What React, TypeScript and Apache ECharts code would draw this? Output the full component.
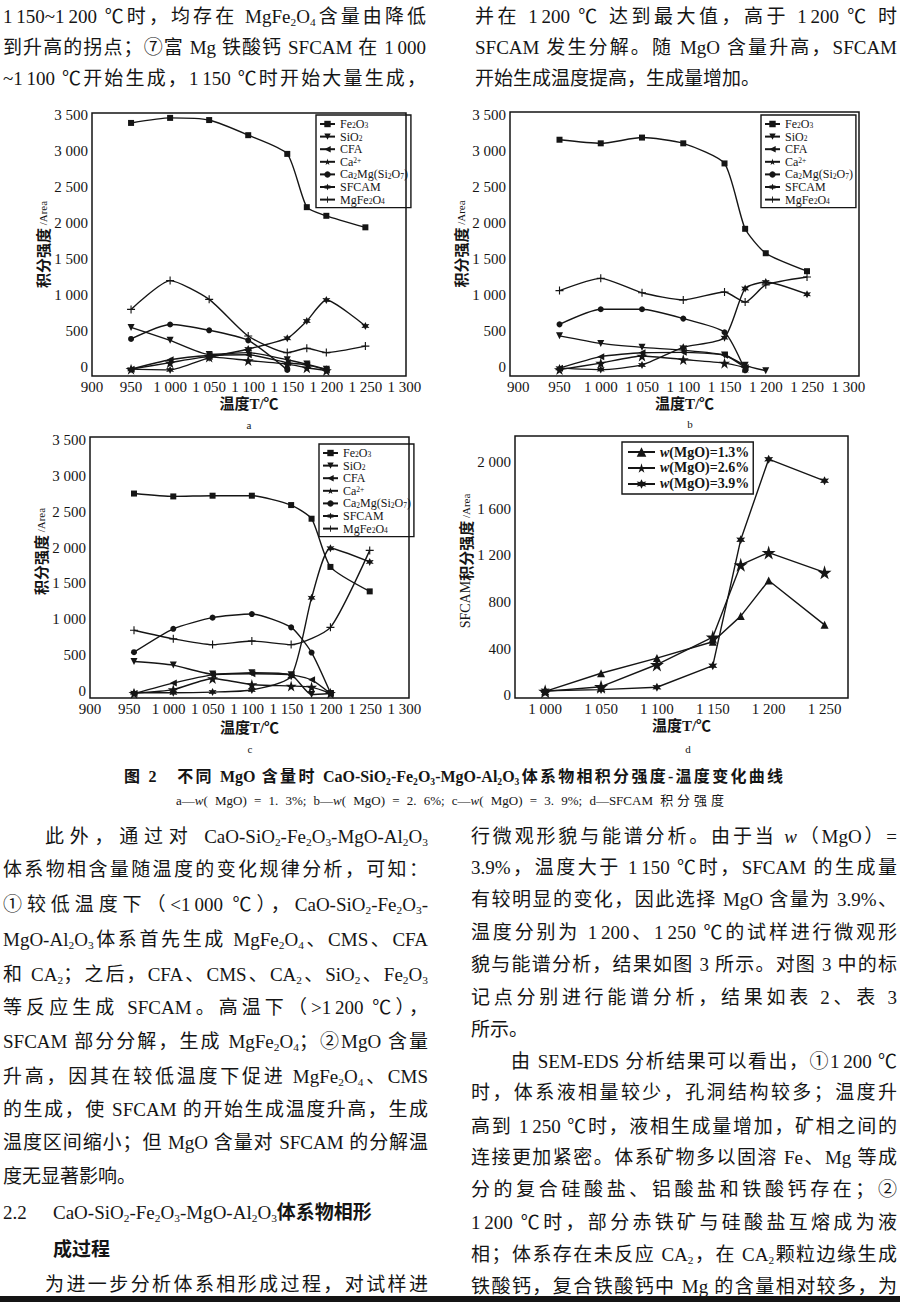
import React, { useEffect, useRef } from 'react';
import * as echarts from 'echarts';

// ---------- tick labels ----------
const X_TICKS = [900, 950, 1000, 1050, 1100, 1150, 1200, 1250, 1300];
const Y_TICKS = [0, 500, 1000, 1500, 2000, 2500, 3000, 3500];
const X_TICKS_D = [1000, 1050, 1100, 1150, 1200, 1250];
const Y_TICKS_D = [0, 400, 800, 1200, 1600, 2000];

// ---------- categories ----------
const PHASES = ['Fe2O3', 'SiO2', 'CFA', 'Ca2+', 'Ca2Mg(Si2O7)', 'SFCAM', 'MgFe2O4'];
const MGO_NAMES = ['w(MgO)=1.3%', 'w(MgO)=2.6%', 'w(MgO)=3.9%'];

// ---------- chart a: w(MgO)=1.3% ----------
const T_A = [950, 1000, 1050, 1100, 1150, 1175, 1200, 1250];
const T_A7 = [950, 1000, 1050, 1100, 1150, 1175, 1200];
const T_A5 = [950, 1000, 1050, 1100, 1150];
const A_FE2O3 = [3390, 3460, 3430, 3220, 2960, 2220, 2100, 1940];
const A_SIO2 = [550, 370, 175, 200, 100, 40, -30];
const A_CFA = [-30, 100, 160, 170, 60, 30, -40];
const A_CA = [-30, 60, 140, 90, 40, -10, -50];
const A_CMS = [390, 590, 510, 370, -40];
const A_SFCAM = [-30, -40, 130, 250, 400, 640, 930, 570];
const A_MGFE = [800, 1200, 940, 430, 200, 260, 200, 290];

// ---------- chart b: w(MgO)=2.6% ----------
const T_B = [950, 1000, 1050, 1100, 1150, 1175, 1200, 1250];
const T_B7 = [950, 1000, 1050, 1100, 1150, 1175, 1200];
const T_B6 = [950, 1000, 1050, 1100, 1150, 1175];
const B_FE2O3 = [3160, 3110, 3190, 3110, 2830, 1920, 1580, 1330];
const B_SIO2 = [430, 325, 270, 230, 165, 20, -55];
const B_CFA = [-20, 140, 195, 200, 160, -10];
const B_CA = [-40, 50, 150, 100, 50, -10];
const B_CMS = [590, 800, 800, 670, 480, -50];
const B_SFCAM = [-20, -40, 25, 270, 405, 1090, 1180, 1010];
const B_MGFE = [1060, 1230, 1030, 930, 1040, 900, 1140, 1250];

// ---------- chart c: w(MgO)=3.9% ----------
const T_C = [956, 1006, 1056, 1106, 1156, 1182, 1206, 1256];
const T_C7 = [956, 1006, 1056, 1106, 1156, 1182, 1206];
const T_C_MG = [956, 1006, 1056, 1106, 1156, 1206, 1256];
const C_FE2O3 = [2750, 2710, 2720, 2720, 2590, 2400, 1730, 1390];
const C_SIO2 = [415, 365, 240, 260, 230, -45, -30];
const C_CFA = [-30, 115, 230, 245, 230, 160, -30];
const C_CA = [-25, 25, 180, 95, 75, 60, -25];
const C_CMS = [545, 870, 1025, 1075, 890, 540, -20];
const C_SFCAM = [-20, -20, -10, 20, 210, 1300, 1990, 1800];
const C_MGFE = [850, 730, 650, 700, 650, 890, 1960];

// ---------- chart d: SFCAM integral intensity ----------
const T_D = [1000, 1050, 1100, 1150, 1175, 1200, 1250];
const D_13 = [35, 190, 320, 460, 680, 985, 605];
const D_26 = [35, 75, 265, 500, 1120, 1225, 1055];
const D_39 = [40, 50, 70, 255, 1335, 2025, 1840];

// ---------- styles ----------
const SERIF = '"Liberation Serif", "Noto Sans CJK SC", serif';
const CJK = '"Noto Sans CJK SC", "Liberation Serif", sans-serif';
const INK = '#151515';

const STAR5 = 'path://M50,0L61,35L98,35L68,57L79,91L50,70L21,91L32,57L2,35L39,35Z';
const STAR6 = 'path://M50,0L62.5,28.35L93.3,25L75,50L93.3,75L62.5,71.65L50,100L37.5,71.65L6.7,75L25,50L6.7,25L37.5,28.35Z';
const PLUS = 'path://M43,0H57V43H100V57H57V100H43V57H0V43H43Z';

const SYM: Record<string, { symbol: string; size: number; rotate?: number }> = {
  'Fe2O3': { symbol: 'rect', size: 6 },
  'SiO2': { symbol: 'triangle', size: 7, rotate: 180 },
  'CFA': { symbol: 'triangle', size: 7, rotate: 90 },
  'Ca2+': { symbol: STAR5, size: 11 },
  'Ca2Mg(Si2O7)': { symbol: 'circle', size: 6 },
  'SFCAM': { symbol: STAR6, size: 8 },
  'MgFe2O4': { symbol: PLUS, size: 8 },
  'w(MgO)=1.3%': { symbol: 'triangle', size: 8 },
  'w(MgO)=2.6%': { symbol: STAR5, size: 14 },
  'w(MgO)=3.9%': { symbol: STAR6, size: 9 },
};

const RICH_NAME: Record<string, string> = {
  'Fe2O3': '{n|Fe}{s|2}{n|O}{s|3}',
  'SiO2': '{n|SiO}{s|2}',
  'CFA': '{n|CFA}',
  'Ca2+': '{n|Ca}{p|2+}',
  'Ca2Mg(Si2O7)': '{n|Ca}{s|2}{n|Mg(Si}{s|2}{n|O}{s|7}{n|)}',
  'SFCAM': '{n|SFCAM}',
  'MgFe2O4': '{n|MgFe}{s|2}{n|O}{s|4}',
  'w(MgO)=1.3%': '{i|w}{m|(MgO)=1.3%}',
  'w(MgO)=2.6%': '{i|w}{m|(MgO)=2.6%}',
  'w(MgO)=3.9%': '{i|w}{m|(MgO)=3.9%}',
};

const fmt = (v: number) => {
  const a = Math.abs(v);
  if (a >= 1000) {
    const th = Math.floor(a / 1000);
    const r = a % 1000;
    return th + ' ' + String(r).padStart(3, '0');
  }
  return String(v);
};

type Spec = [string, number[], number[]];

const CHARTS: {
  grid: any; x: [number, number]; y: [number, number]; xt: number[]; yt: number[];
  yName: string; yGap: number; yShift: number; xGap: number; sub: string; subXY: [number, number];
  series: Spec[]; smooth: number;
}[] = [
  {
    grid: { left: 92, top: 113, width: 314, height: 263 }, x: [900, 1302], y: [-125, 3528],
    xt: X_TICKS, yt: Y_TICKS, yName: '{c|积分强度}{e| /Area}', yGap: 42, yShift: 0, xGap: 20, sub: 'a', subXY: [249, 425],
    smooth: 0.2,
    series: [
      ['Fe2O3', T_A, A_FE2O3], ['SiO2', T_A7, A_SIO2], ['CFA', T_A7, A_CFA], ['Ca2+', T_A7, A_CA],
      ['Ca2Mg(Si2O7)', T_A5, A_CMS], ['SFCAM', T_A, A_SFCAM], ['MgFe2O4', T_A, A_MGFE],
    ],
  },
  {
    grid: { left: 510, top: 112, width: 349, height: 264 }, x: [890, 1313], y: [-129, 3546],
    xt: X_TICKS, yt: Y_TICKS, yName: '{c|积分强度}{e| /Area}', yGap: 36, yShift: 0, xGap: 20, sub: 'b', subXY: [690, 424],
    smooth: 0.2,
    series: [
      ['Fe2O3', T_B, B_FE2O3], ['SiO2', T_B7, B_SIO2], ['CFA', T_B6, B_CFA], ['Ca2+', T_B6, B_CA],
      ['Ca2Mg(Si2O7)', T_B6, B_CMS], ['SFCAM', T_B, B_SFCAM], ['MgFe2O4', T_B, B_MGFE],
    ],
  },
  {
    grid: { left: 90, top: 437, width: 319, height: 261 }, x: [900, 1306], y: [-92, 3536],
    xt: X_TICKS, yt: Y_TICKS, yName: '{c|积分强度}{e| /Area}', yGap: 40, yShift: 32, xGap: 22, sub: 'c', subXY: [250, 749],
    smooth: 0.2,
    series: [
      ['Fe2O3', T_C, C_FE2O3], ['SiO2', T_C7, C_SIO2], ['CFA', T_C7, C_CFA], ['Ca2+', T_C7, C_CA],
      ['Ca2Mg(Si2O7)', T_C7, C_CMS], ['SFCAM', T_C, C_SFCAM], ['MgFe2O4', T_C_MG, C_MGFE],
    ],
  },
  {
    grid: { left: 515, top: 436, width: 333, height: 262 }, x: [973, 1271], y: [-22, 2224],
    xt: X_TICKS_D, yt: Y_TICKS_D, yName: '{l|SFCAM}{c|积分强度}{e| /Area}', yGap: 32, yShift: 12, xGap: 20, sub: 'd', subXY: [688, 749],
    smooth: 0,
    series: [['w(MgO)=1.3%', T_D, D_13], ['w(MgO)=2.6%', T_D, D_26], ['w(MgO)=3.9%', T_D, D_39]],
  },
];

const LEG_RICH = {
  n: { fontFamily: SERIF, fontSize: 12, color: INK, lineHeight: 11 },
  s: { fontFamily: SERIF, fontSize: 7.5, color: INK, lineHeight: 7, verticalAlign: 'bottom' },
  p: { fontFamily: SERIF, fontSize: 7.5, color: INK, lineHeight: 7, verticalAlign: 'top' },
  i: { fontFamily: SERIF, fontSize: 14, fontWeight: 'bold', fontStyle: 'italic', color: INK, lineHeight: 14 },
  m: { fontFamily: SERIF, fontSize: 14, fontWeight: 'bold', color: INK, lineHeight: 14 },
};

const phaseLegend = (left: number, top: number) => ({
  left, top, orient: 'vertical', itemWidth: 15, itemHeight: 8, itemGap: 0.6,
  padding: [3, 3, 2, 3], borderColor: INK, borderWidth: 1.4, selectedMode: false,
  data: PHASES, formatter: (n: string) => RICH_NAME[n], textStyle: { rich: LEG_RICH },
});

function buildOption() {
  const grids: any[] = [];
  const xAxes: any[] = [];
  const yAxes: any[] = [];
  const series: any[] = [];
  const graphic: any[] = [];
  CHARTS.forEach((c, k) => {
    grids.push({ ...c.grid, show: true, borderColor: INK, borderWidth: 1.5, containLabel: false });
    xAxes.push({
      type: 'value', gridIndex: k, min: c.x[0], max: c.x[1],
      axisLine: { show: false }, axisTick: { show: false }, splitLine: { show: false },
      axisLabel: { customValues: c.xt, formatter: fmt, fontFamily: SERIF, fontSize: 15, color: INK, margin: 3 },
      name: '{c|温度T/℃}', nameLocation: 'middle', nameGap: c.xGap,
      nameTextStyle: { rich: { c: { fontFamily: SERIF, fontSize: 15, fontWeight: 'bold', color: INK } } },
    });
    yAxes.push({
      type: 'value', gridIndex: k, min: c.y[0], max: c.y[1],
      axisLine: { show: false }, axisTick: { show: false }, splitLine: { show: false },
      axisLabel: { customValues: c.yt, formatter: fmt, fontFamily: SERIF, fontSize: 15, color: INK, margin: 4 },
      name: c.yName, nameLocation: 'middle', nameRotate: 90, nameGap: c.yGap,
      nameTextStyle: {
        padding: [0, 0, 0, c.yShift],
        rich: {
          c: { fontFamily: CJK, fontSize: 15, fontWeight: 'bold', color: INK },
          e: { fontFamily: SERIF, fontSize: 11, color: INK },
          l: { fontFamily: SERIF, fontSize: 14, color: INK },
        },
      },
    });
    c.series.forEach(([name, temps, vals]) => {
      const s = SYM[name];
      series.push({
        type: 'line', name, xAxisIndex: k, yAxisIndex: k,
        data: temps.map((t, i) => [t, vals[i]]),
        symbol: s.symbol, symbolSize: s.size, symbolRotate: s.rotate || 0,
        showSymbol: true, smooth: c.smooth, clip: false,
        lineStyle: { color: INK, width: 1.4 }, itemStyle: { color: INK },
      });
    });
    graphic.push({
      type: 'text', x: c.subXY[0], y: c.subXY[1],
      style: { text: c.sub, fontFamily: SERIF, fontSize: 11, fill: INK, align: 'center', verticalAlign: 'middle', textAlign: 'center', textVerticalAlign: 'middle' },
    });
  });
  return {
    animation: false,
    textStyle: { fontFamily: SERIF },
    grid: grids, xAxis: xAxes, yAxis: yAxes, series, graphic,
    legend: [
      phaseLegend(316, 115),
      phaseLegend(761, 115),
      phaseLegend(319, 444),
      {
        left: 622, top: 442, orient: 'vertical', itemWidth: 27, itemHeight: 12, itemGap: 2,
        padding: [3, 4, 3, 5], borderColor: INK, borderWidth: 1.4, selectedMode: false,
        data: MGO_NAMES, formatter: (n: string) => RICH_NAME[n], textStyle: { rich: LEG_RICH },
      },
    ],
  };
}

// ---------- page text ----------
const TOP_L = [
  '1 150~1 200 ℃时，均存在 MgFe_2O_4含量由降低',
  '到升高的拐点；⑦富 Mg 铁酸钙 SFCAM 在 1 000',
  '~1 100 ℃开始生成，1 150 ℃时开始大量生成，',
];
const TOP_R = [
  '并在 1 200 ℃ 达到最大值，高于 1 200 ℃ 时',
  'SFCAM 发生分解。随 MgO 含量升高，SFCAM',
  '开始生成温度提高，生成量增加。',
];
const TOP_Y = [17, 48, 79];

const BOT_L = [
  '此外，通过对 CaO-SiO_2-Fe_2O_3-MgO-Al_2O_3',
  '体系物相含量随温度的变化规律分析，可知：',
  '①较低温度下（<1 000 ℃），CaO-SiO_2-Fe_2O_3-',
  'MgO-Al_2O_3体系首先生成 MgFe_2O_4、CMS、CFA',
  '和 CA_2；之后，CFA、CMS、CA_2、SiO_2、Fe_2O_3',
  '等反应生成 SFCAM。高温下（>1 200 ℃），',
  'SFCAM 部分分解，生成 MgFe_2O_4；②MgO 含量',
  '升高，因其在较低温度下促进 MgFe_2O_4、CMS',
  '的生成，使 SFCAM 的开始生成温度升高，生成',
  '温度区间缩小；但 MgO 含量对 SFCAM 的分解温',
  '度无显著影响。',
];
const BOT_L_Y = [837, 870, 905, 940, 975, 1008, 1042, 1077, 1110, 1143, 1177];

const BOT_R = [
  '行微观形貌与能谱分析。由于当 {w}（MgO）=',
  '3.9%，温度大于 1 150 ℃时，SFCAM 的生成量',
  '有较明显的变化，因此选择 MgO 含量为 3.9%、',
  '温度分别为 1 200、1 250 ℃的试样进行微观形',
  '貌与能谱分析，结果如图 3 所示。对图 3 中的标',
  '记点分别进行能谱分析，结果如表 2、表 3',
  '所示。',
  '由 SEM-EDS 分析结果可以看出，①1 200 ℃',
  '时，体系液相量较少，孔洞结构较多；温度升',
  '高到 1 250 ℃时，液相生成量增加，矿相之间的',
  '连接更加紧密。体系矿物多以固溶 Fe、Mg 等成',
  '分的复合硅酸盐、铝酸盐和铁酸钙存在；②',
  '1 200 ℃时，部分赤铁矿与硅酸盐互熔成为液',
  '相；体系存在未反应 CA_2，在 CA_2颗粒边缘生成',
  '铁酸钙，复合铁酸钙中 Mg 的含量相对较多，为',
];
const BOT_R_Y = [837, 868, 900, 933, 965, 998, 1030, 1062, 1093, 1127, 1158, 1190, 1223, 1255, 1287];

const PAGE_FONT = '"Liberation Serif", "Noto Sans CJK SC", serif';

function rich(s: string) {
  const parts = s.split(/(_\d|\{w\})/);
  return parts.map((p, i) => {
    if (p.startsWith('_') && p.length === 2) {
      return <sub key={i} style={{ fontSize: '0.6em', verticalAlign: '-0.28em', lineHeight: 0 }}>{p[1]}</sub>;
    }
    if (p === '{w}') return <i key={i}>w</i>;
    return <React.Fragment key={i}>{p.replace(/(\d) (\d{3})/g, '$1\u2009$2')}</React.Fragment>;
  });
}

function TL(props: { x: number; y: number; w: number; j?: boolean; size?: number; bold?: boolean; children: any }) {
  const { x, y, w, j = true, size = 19, bold = false, children } = props;
  return (
    <div
      style={{
        position: 'absolute', left: x, top: y - 13, width: w, height: 26, lineHeight: '26px',
        fontSize: size, whiteSpace: 'nowrap', textAlign: j ? 'justify' : 'left',
        textAlignLast: j ? 'justify' : 'left', fontWeight: bold ? 'bold' : 'normal',
      } as any}
    >
      {children}
    </div>
  );
}

export default function App() {
  const ref = useRef<HTMLDivElement>(null);
  useEffect(() => {
    const chart = echarts.init(ref.current as HTMLDivElement, null, { renderer: 'svg' });
    chart.setOption(buildOption() as any);
    return () => chart.dispose();
  }, []);

  return (
    <div style={{ position: 'absolute', left: 0, top: 0, width: 900, height: 1302, background: '#fff', overflow: 'hidden', fontFamily: PAGE_FONT, color: INK }}>
      <div ref={ref} style={{ position: 'absolute', left: 0, top: 0, width: 900, height: 1302 }} />
      {TOP_L.map((t, i) => <TL key={'tl' + i} x={3} y={TOP_Y[i]} w={423}>{rich(t)}</TL>)}
      {TOP_R.map((t, i) => <TL key={'tr' + i} x={475} y={TOP_Y[i]} w={422} j={i < 2}>{rich(t)}</TL>)}

      <TL x={124} y={777} w={659} size={16} bold>
        {rich('图 2　不同 MgO 含量时 CaO-SiO_2-Fe_2O_3-MgO-Al_2O_3体系物相积分强度-温度变化曲线')}
      </TL>
      <TL x={176} y={801} w={548} size={13}>
        {rich('a—')}<i>w</i>{rich('( MgO) = 1. 3%; b—')}<i>w</i>{rich('( MgO) = 2. 6%; c—')}<i>w</i>{rich('( MgO) = 3. 9%; d—SFCAM 积分强度')}
      </TL>

      {BOT_L.map((t, i) => (
        <TL key={'bl' + i} x={i === 0 ? 45 : 3} y={BOT_L_Y[i]} w={i === 0 ? 383 : 425} j={i < BOT_L.length - 1}>{rich(t)}</TL>
      ))}
      <TL x={3} y={1213} w={60} j={false}>2.2</TL>
      <TL x={53} y={1213} w={380} j={false}>{rich('CaO-SiO_2-Fe_2O_3-MgO-Al_2O_3')}<b>体系物相形</b></TL>
      <TL x={53} y={1250} w={200} j={false} bold>成过程</TL>
      <TL x={45} y={1285} w={383}>为进一步分析体系相形成过程，对试样进</TL>

      {BOT_R.map((t, i) => (
        <TL key={'br' + i} x={i === 7 ? 511 : 471} y={BOT_R_Y[i]} w={i === 7 ? 386 : 426} j={i !== 6}>{rich(t)}</TL>
      ))}
      <div style={{ position: 'absolute', left: 0, top: 1296, width: 900, height: 6, background: INK }} />
    </div>
  );
}
